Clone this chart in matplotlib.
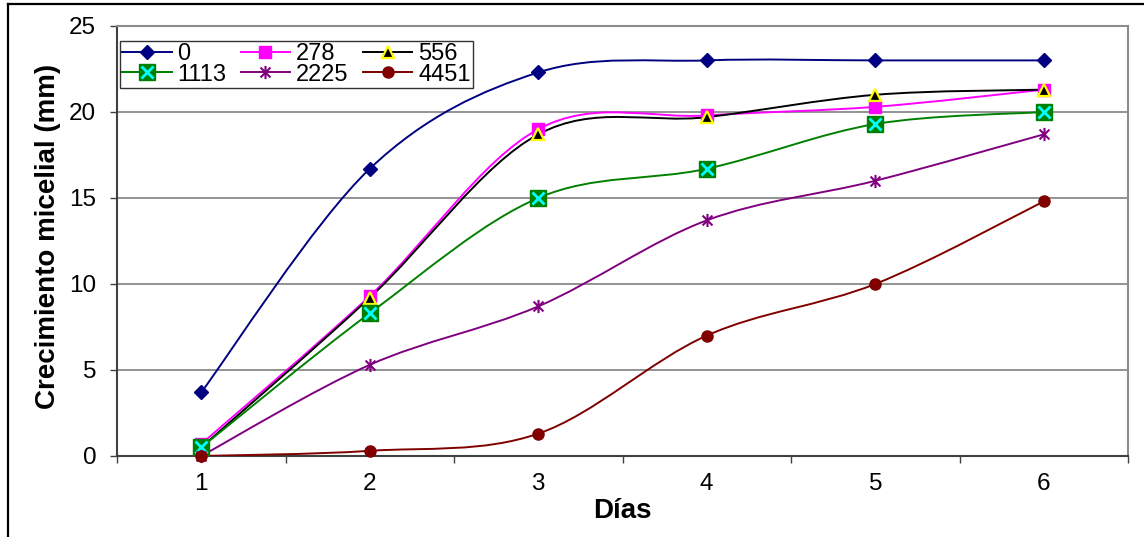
import numpy as np
import matplotlib
matplotlib.use('Agg')
import matplotlib.pyplot as plt
from matplotlib.path import Path
from matplotlib.patches import PathPatch
from matplotlib.lines import Line2D
from matplotlib.legend_handler import HandlerTuple

plt.rcParams['font.family'] = ['Liberation Sans', 'DejaVu Sans']

dias = [1, 2, 3, 4, 5, 6]
c0 = [3.7, 16.7, 22.3, 23.0, 23.0, 23.0]
c278 = [0.7, 9.3, 19.0, 19.8, 20.3, 21.3]
c556 = [0.5, 9.2, 18.7, 19.7, 21.0, 21.3]
c1113 = [0.5, 8.3, 15.0, 16.7, 19.3, 20.0]
c2225 = [0.0, 5.3, 8.7, 13.7, 16.0, 18.7]
c4451 = [0.0, 0.3, 1.3, 7.0, 10.0, 14.8]
etiquetas = ['0', '278', '556', '1113', '2225', '4451']

# asterisk marker: vertical bar plus an X
star = Path([(0, -1), (0, 1), (-0.75, -0.75), (0.75, 0.75), (-0.75, 0.75), (0.75, -0.75)],
            [Path.MOVETO, Path.LINETO] * 3)


def smooth_path(x, y):
    # cubic Bezier through the points (Catmull-Rom style control points)
    p = np.column_stack([x, y]).astype(float)
    n = len(p)
    verts = [p[0]]
    codes = [Path.MOVETO]
    for i in range(n - 1):
        pm = p[max(i - 1, 0)]
        pn = p[min(i + 2, n - 1)]
        verts += [p[i] + (p[i + 1] - pm) / 6, p[i + 1] - (pn - p[i]) / 6, p[i + 1]]
        codes += [Path.CURVE4] * 3
    return Path(verts, codes)


fig = plt.figure(figsize=(11.44, 5.37), dpi=100)
ax = fig.add_axes([117 / 1144, 1 - 456 / 537, 1011 / 1144, 430 / 537])

series = [
    (c0, '#000080', [dict(marker='D', ms=7.5, mfc='#000080', mec='#000080')]),
    (c278, '#FF00FF', [dict(marker='s', ms=8, mfc='#FF00FF', mec='#FF00FF')]),
    (c556, 'black', [dict(marker='^', ms=9, mfc='black', mec='yellow', mew=1.6)]),
    (c1113, '#008000', [dict(marker='s', ms=12, mfc='#008000', mec='#008000'),
                        dict(marker='x', ms=8.5, mec='cyan', mew=2)]),
    (c2225, '#800080', [dict(marker=star, ms=9.5, mec='#800080', mew=1.5)]),
    (c4451, '#800000', [dict(marker='o', ms=8, mfc='#800000', mec='#800000')]),
]

handles = []
for k, (vals, col, mks) in enumerate(series):
    ax.add_patch(PathPatch(smooth_path(dias, vals), fill=False, edgecolor=col,
                           lw=1.4, zorder=3 + k * 0.1))
    parts = []
    for m in mks:
        ax.plot(dias, vals, linestyle='none', clip_on=False, zorder=4 + k * 0.1, **m)
        parts.append(Line2D([], [], color=col, lw=1.4, **m))
    handles.append(tuple(parts))

ax.set_xlim(0.5, 6.5)
ax.set_ylim(0, 25)
ax.set_yticks([0, 5, 10, 15, 20, 25])
ax.set_xticks(dias)
ax.set_xticks(np.arange(0.5, 7, 1), minor=True)
ax.tick_params(axis='x', which='major', length=0, pad=12, labelsize=17.5)
ax.tick_params(axis='x', which='minor', length=5, width=1, color='#404040', direction='out')
ax.tick_params(axis='y', length=5, width=1, color='#404040', pad=10, labelsize=17.5)
ax.grid(axis='y', color='#808080', lw=1.2)
ax.set_axisbelow(True)
for s in ['left', 'bottom']:
    ax.spines[s].set_color('#404040')
    ax.spines[s].set_linewidth(1.5)
for s in ['top', 'right']:
    ax.spines[s].set_color('#8c8c8c')
    ax.spines[s].set_linewidth(1.5)

ax.set_xlabel('Días', fontsize=20, fontweight='bold')
ax.xaxis.set_label_coords(0.5, -0.098)
ax.set_ylabel('Crecimiento micelial (mm)', fontsize=20, fontweight='bold')
ax.yaxis.set_label_coords(-0.055, 0.51)

# legend filled column by column, so reorder for row-wise reading
orden = [0, 3, 1, 4, 2, 5]
leg = ax.legend([handles[i] for i in orden], [etiquetas[i] for i in orden],
                handler_map={tuple: HandlerTuple(ndivide=1)},
                ncol=3, loc='upper left', bbox_to_anchor=(0.003, 0.965),
                fontsize=17, handlelength=2.1, handletextpad=0.25,
                columnspacing=0.6, labelspacing=-0.05, borderpad=0.08,
                borderaxespad=0, frameon=True, fancybox=False)
leg.get_frame().set_edgecolor('black')
leg.get_frame().set_linewidth(1)

# outer chart border
fig.add_artist(Line2D([7.5 / 1144, 7.5 / 1144], [0, 1 - 3.5 / 537], color='black', lw=1.6))
fig.add_artist(Line2D([7.5 / 1144, 1], [1 - 3.5 / 537, 1 - 3.5 / 537], color='black', lw=1.6))

fig.savefig('out.png', dpi=100)
